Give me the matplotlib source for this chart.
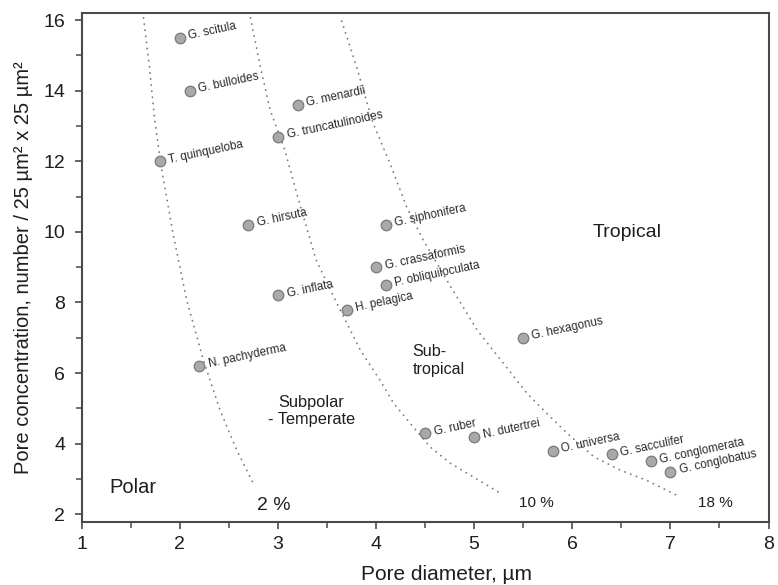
import matplotlib
matplotlib.use("Agg")
import matplotlib.pyplot as plt
from matplotlib.ticker import MultipleLocator

plt.rcParams['font.family'] = ['Liberation Sans', 'DejaVu Sans']

# ---- data -------------------------------------------------------------
species = ["G. scitula", "G. bulloides", "G. menardii", "G. truncatulinoides",
           "T. quinqueloba", "G. hirsuta", "G. siphonifera", "G. crassaformis",
           "P. obliquiloculata", "G. inflata", "H. pelagica", "G. hexagonus",
           "N. pachyderma", "G. ruber", "N. dutertrei", "O. universa",
           "G. sacculifer", "G. conglomerata", "G. conglobatus"]
pore_diameter = [2.0, 2.1, 3.2, 3.0, 1.8, 2.7, 4.1, 4.0, 4.1, 3.0, 3.7, 5.5,
                 2.2, 4.5, 5.0, 5.8, 6.4, 6.8, 7.0]
pore_conc = [15.5, 14.0, 13.6, 12.7, 12.0, 10.2, 10.2, 9.0, 8.5, 8.2, 7.8, 7.0,
             6.2, 4.3, 4.2, 3.8, 3.7, 3.5, 3.2]

# porosity isolines
iso2_x = [1.63, 1.69, 1.74, 1.81, 1.93, 2.07, 2.24, 2.41, 2.58, 2.75]
iso2_y = [16.06, 14.69, 13.27, 11.85, 9.96, 8.07, 6.37, 4.95, 3.82, 2.87]
iso10_x = [2.72, 2.82, 2.92, 3.07, 3.22, 3.39, 3.60, 3.84, 4.04, 4.18, 4.35,
           4.55, 4.76, 4.99, 5.27]
iso10_y = [16.06, 14.69, 13.46, 12.32, 10.81, 9.20, 7.98, 6.65, 5.80, 5.14,
           4.57, 3.91, 3.44, 3.06, 2.59]
iso18_x = [3.65, 3.80, 3.97, 4.14, 4.31, 4.48, 4.76, 5.03, 5.30, 5.54, 5.74,
           5.95, 6.22, 6.49, 6.76, 7.10]
iso18_y = [15.97, 14.69, 13.08, 11.95, 10.72, 9.77, 8.45, 7.22, 6.27, 5.42,
           4.86, 4.29, 3.63, 3.25, 2.96, 2.49]

x_ticks = [1, 2, 3, 4, 5, 6, 7, 8]
y_ticks = [2, 4, 6, 8, 10, 12, 14, 16]

# ---- figure -----------------------------------------------------------
fig = plt.figure(figsize=(7.78, 5.85), dpi=100)
ax = fig.add_axes([0.105, 0.1082, 0.8828, 0.869])

dot_style = dict(color='#7a7a7a', lw=1.3, linestyle=(0, (0.1, 3.3)),
                 dash_capstyle='round')
for xs, ys in [(iso2_x, iso2_y), (iso10_x, iso10_y), (iso18_x, iso18_y)]:
    ax.plot(xs, ys, **dot_style, zorder=1)

ax.plot(pore_diameter, pore_conc, linestyle='none', marker='o', markersize=7.6,
        markerfacecolor='#a9a9a9', markeredgecolor='#7a7a7a',
        markeredgewidth=0.9, zorder=3)

for name, x, y in zip(species, pore_diameter, pore_conc):
    ax.annotate(name, (x, y), xytext=(6.5, 1.0), textcoords='offset points',
                ha='left', va='center', rotation=12, rotation_mode='anchor',
                fontsize=8.4, color='#2a2a2a', zorder=4)

# region labels
ax.text(1.523, 2.76, "Polar", fontsize=14.5, ha='center', va='center', color='#1e1e1e')
ax.text(2.96, 2.25, "2 %", fontsize=14, ha='center', va='center', color='#1e1e1e')
ax.text(3.34, 4.92, "Subpolar\n- Temperate", fontsize=11.8, ha='center',
        va='center', color='#1e1e1e', linespacing=1.2)
ax.text(4.37, 6.36, "Sub-\ntropical", fontsize=11.6, ha='left', va='center',
        color='#1e1e1e', linespacing=1.2)
ax.text(6.56, 9.99, "Tropical", fontsize=14, ha='center', va='center', color='#1e1e1e')
ax.text(5.63, 2.31, "10 %", fontsize=11, ha='center', va='center', color='#1e1e1e')
ax.text(7.455, 2.31, "18 %", fontsize=11, ha='center', va='center', color='#1e1e1e')

ax.set_xlim(1, 8)
ax.set_ylim(1.79, 16.19)
ax.set_xticks(x_ticks)
ax.set_yticks(y_ticks)
ax.xaxis.set_minor_locator(MultipleLocator(0.5))
ax.yaxis.set_minor_locator(MultipleLocator(1))

for sp in ax.spines.values():
    sp.set_color('#4a4a4a')
    sp.set_linewidth(1.5)

ax.tick_params(axis='both', which='major', direction='out', length=5, width=1.2,
               color='#4a4a4a', labelsize=14, labelcolor='#1e1e1e')
ax.tick_params(axis='both', which='minor', direction='out', length=4.2, width=1.1,
               color='#4a4a4a')
ax.tick_params(axis='x', which='major', pad=5)
ax.tick_params(axis='y', which='major', pad=7)

ax.set_xlabel("Pore diameter, µm", fontsize=15, color='#1e1e1e')
ax.set_ylabel("Pore concentration, number / 25 µm² x 25 µm²", fontsize=14.5,
              color='#1e1e1e')
ax.xaxis.set_label_coords(0.531, -0.104)
ax.xaxis.label.set_va('center')
ax.yaxis.set_label_coords(-0.084, 0.5)
ax.yaxis.label.set_va('center')

fig.savefig("out.png", dpi=100)
